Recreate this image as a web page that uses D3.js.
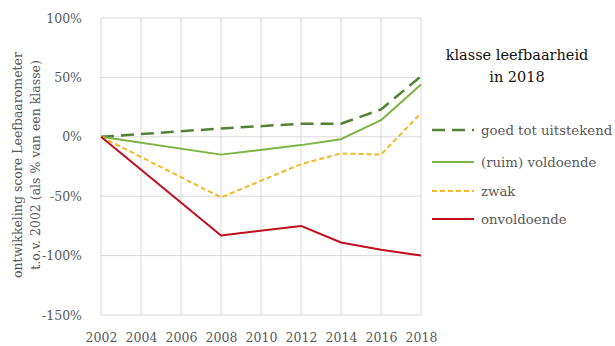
<!DOCTYPE html>
<html><head><meta charset="utf-8">
<script src="https://cdn.jsdelivr.net/npm/d3@7"></script>
<style>body{margin:0;background:#fff;} svg{display:block;} text{font-family:'DejaVu Serif',serif;}</style>
</head><body>
<svg id="c" width="615" height="346"></svg>
<script>
const years = [2002, 2008, 2012, 2014, 2016, 2018];
const goed = [0, 7, 11, 11, 23, 51];
const voldoende = [0, -15, -7, -2, 14, 44];
const zwak = [0, -51, -23, -14, -15, 20];
const onvoldoende = [0, -83, -75, -89, -95, -100];
const xTicks = [2002, 2004, 2006, 2008, 2010, 2012, 2014, 2016, 2018];
const yTicks = [-150, -100, -50, 0, 50, 100];
const seriesNames = ["goed tot uitstekend", "(ruim) voldoende", "zwak", "onvoldoende"];

const series = [
  {name: seriesNames[0], values: goed, color: "#548235", dash: "13,7", width: 2.5},
  {name: seriesNames[1], values: voldoende, color: "#7cb342", dash: null, width: 2},
  {name: seriesNames[2], values: zwak, color: "#f2b922", dash: "5,3", width: 2},
  {name: seriesNames[3], values: onvoldoende, color: "#c0101c", dash: null, width: 2}
];

const svg = d3.select("#c");
const x = d3.scaleLinear().domain([2002, 2018]).range([101, 421]);
const y = d3.scaleLinear().domain([-150, 100]).range([315, 18]);

svg.append("g").selectAll("line").data(yTicks).join("line")
  .attr("x1", x(2002)).attr("x2", x(2018))
  .attr("y1", d => y(d)).attr("y2", d => y(d))
  .attr("stroke", "#d9d9d9").attr("stroke-width", 1);
svg.append("g").selectAll("line").data(xTicks).join("line")
  .attr("x1", d => x(d)).attr("x2", d => x(d))
  .attr("y1", y(100)).attr("y2", y(-150))
  .attr("stroke", "#d9d9d9").attr("stroke-width", 1);

const yAxis = svg.append("g").attr("transform", `translate(${x(2002)},0)`)
  .call(d3.axisLeft(y).tickValues(yTicks).tickFormat(d => d + "%").tickSize(0).tickPadding(19));
yAxis.select(".domain").remove();
yAxis.attr("font-family", null);
yAxis.selectAll("text").style("font-family", "'DejaVu Serif',serif").style("font-size", "12.5px").attr("fill", "#595959");

const xAxis = svg.append("g").attr("transform", `translate(0,${y(-150)})`)
  .call(d3.axisBottom(x).tickValues(xTicks).tickFormat(d3.format("d")).tickSize(0).tickPadding(0));
xAxis.select(".domain").remove();
xAxis.attr("font-family", null);
xAxis.selectAll("text").attr("y", 0).attr("dy", null).attr("dominant-baseline", null)
  .attr("transform", "translate(0,27)")
  .style("font-family", "'DejaVu Serif',serif").style("font-size", "12.5px").attr("fill", "#595959");

const line = d3.line().x((d, i) => x(years[i])).y(d => y(d));
svg.append("g").selectAll("path").data(series).join("path")
  .attr("d", d => line(d.values))
  .attr("fill", "none")
  .attr("stroke", d => d.color)
  .attr("stroke-width", d => d.width)
  .attr("stroke-dasharray", d => d.dash)
  .attr("stroke-linejoin", "round");

const yt = svg.append("text").attr("transform", "translate(0,165) rotate(-90)")
  .style("font-size", "12.5px").attr("fill", "#595959").attr("text-anchor", "middle");
yt.append("tspan").attr("x", 0).attr("y", 22).text("ontwikkeling  score Leefbaarometer");
yt.append("tspan").attr("x", 0).attr("y", 40).text("t.o.v. 2002 (als % van een klasse)");

const lg = svg.append("g");
lg.append("text").attr("x", 517).attr("y", 60).attr("text-anchor", "middle")
  .style("font-size", "14.5px").attr("fill", "#111").text("klasse leefbaarheid");
lg.append("text").attr("x", 517).attr("y", 82).attr("text-anchor", "middle")
  .style("font-size", "14.5px").attr("fill", "#111").text("in 2018");
const rowY = [130, 162, 191, 219];
const items = lg.selectAll("g.item").data(series).join("g").attr("class", "item")
  .attr("transform", (d, i) => `translate(0,${rowY[i]})`);
items.append("line").attr("x1", 432).attr("x2", 474).attr("y1", 0).attr("y2", 0)
  .attr("stroke", d => d.color).attr("stroke-width", d => d.width)
  .attr("stroke-dasharray", d => d.dash);
items.append("text").attr("x", 481).attr("y", 4.5)
  .style("font-size", "13.3px").attr("fill", "#595959")
  .text(d => d.name);
</script>
</body></html>
